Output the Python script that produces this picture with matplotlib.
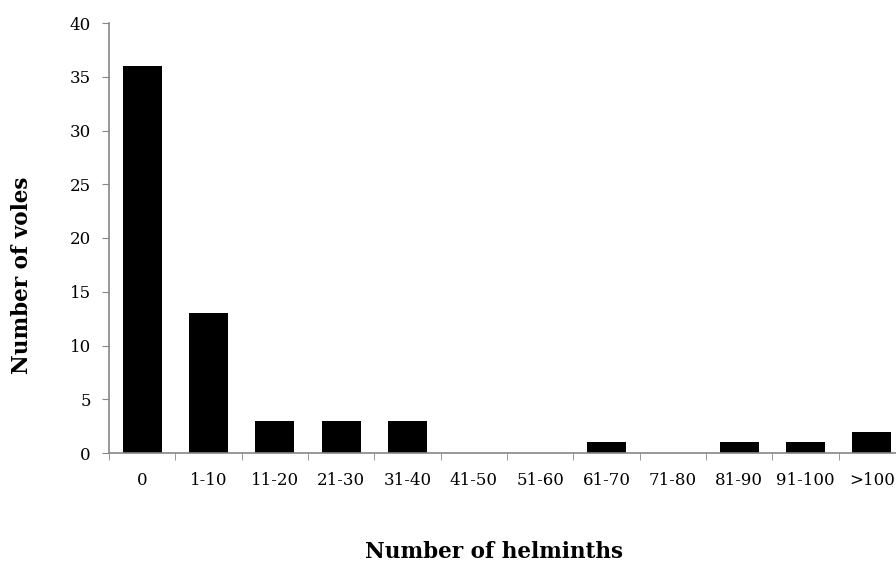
import matplotlib.pyplot as plt
import numpy as np

# 数据
categories = ['0', '1-10', '11-20', '21-30', '31-40', '41-50', '51-60',
              '61-70', '71-80', '81-90', '91-100', '>100']
voles = [36, 13, 3, 3, 3, 0, 0, 1, 0, 1, 1, 2]

plt.rcParams['font.family'] = ['DejaVu Serif']

fig = plt.figure(figsize=(8.96, 5.65), dpi=100)
# 坐标轴右端超出画面（与原图一致）
ax = fig.add_axes([109 / 896, 112 / 565, 796 / 896, 430 / 565])

x = np.arange(len(categories))
ax.bar(x, voles, width=0.59, color='black')

ax.set_xlim(-0.5, len(categories) - 0.5)
ax.set_ylim(0, 40)
ax.set_yticks(range(0, 41, 5))

ax.set_xticks(x)
ax.set_xticklabels(categories)
ax.set_xticks(np.arange(-0.5, len(categories)), minor=True)
ax.tick_params(axis='x', which='major', length=0, pad=14, labelsize=12)
ax.tick_params(axis='x', which='minor', length=5, color='#868686', direction='out')
ax.tick_params(axis='y', length=5, color='#868686', pad=8, labelsize=12)

for s in ['top', 'right']:
    ax.spines[s].set_visible(False)
for s in ['left', 'bottom']:
    ax.spines[s].set_color('#868686')
    ax.spines[s].set_linewidth(1.2)

fig.text(22 / 896, 1 - 275 / 565, 'Number of voles', rotation=90,
         ha='center', va='center', fontsize=15.5, fontweight='bold')
fig.text(494 / 896, 1 - 552 / 565, 'Number of helminths',
         ha='center', va='center', fontsize=15.5, fontweight='bold')

plt.savefig('out.png', dpi=100)
